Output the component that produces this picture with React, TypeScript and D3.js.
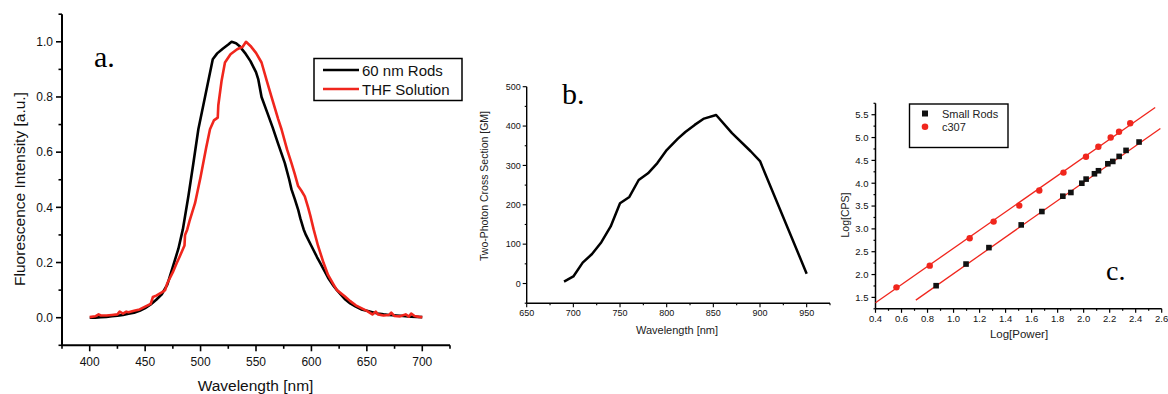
import React from 'react';
import * as d3 from 'd3';

// ---------- Panel a data ----------
const rodsWavelength = [400, 405, 410, 415, 420, 425, 430, 435, 440, 445, 450, 455, 460, 465, 470, 476, 480, 484, 489, 493.5, 498, 504, 511, 515, 520, 525, 528, 532, 535, 540, 545, 550, 552, 555, 560, 565, 570, 576, 580, 582, 585, 588, 590, 593, 595, 600, 605, 608, 615, 620, 623, 630, 635, 640, 645, 650, 655, 660, 665, 670, 680, 690, 700];
const rodsIntensity = [0.0, 0.0, 0.002, 0.003, 0.005, 0.007, 0.01, 0.014, 0.018, 0.025, 0.035, 0.048, 0.065, 0.085, 0.12, 0.198, 0.25, 0.32, 0.44, 0.56, 0.683, 0.8, 0.937, 0.958, 0.975, 0.99, 1.0, 0.995, 0.985, 0.96, 0.93, 0.89, 0.865, 0.8, 0.745, 0.69, 0.63, 0.56, 0.5, 0.465, 0.43, 0.392, 0.36, 0.32, 0.3, 0.26, 0.22, 0.198, 0.145, 0.115, 0.1, 0.068, 0.052, 0.04, 0.03, 0.025, 0.02, 0.015, 0.012, 0.01, 0.007, 0.004, 0.002];

const thfWavelength = [400, 405, 408, 410, 415, 420, 425, 427, 430, 433, 435, 440, 445, 450, 455, 457, 460, 465, 468, 470, 475, 478.5, 481, 485.5, 486, 488, 490, 495, 500, 505, 508.5, 512, 515.5, 516, 519, 522, 527, 533, 538, 541, 545, 550, 555, 560, 564, 570, 573, 578, 582, 585, 588, 591, 594, 597, 599, 602, 606, 611, 615, 620, 623, 630, 635, 640, 645, 650, 655, 658, 660, 665, 670, 672, 675, 680, 685, 688, 690, 693, 697, 700];
const thfIntensity = [0.002, 0.005, 0.012, 0.008, 0.008, 0.01, 0.012, 0.022, 0.015, 0.022, 0.02, 0.025, 0.03, 0.04, 0.05, 0.075, 0.08, 0.092, 0.1, 0.125, 0.165, 0.198, 0.22, 0.262, 0.3, 0.32, 0.35, 0.415, 0.51, 0.615, 0.683, 0.715, 0.725, 0.77, 0.86, 0.925, 0.955, 0.973, 0.982, 1.0, 0.985, 0.96, 0.925, 0.855, 0.8, 0.72, 0.683, 0.61, 0.56, 0.52, 0.477, 0.46, 0.44, 0.4, 0.37, 0.32, 0.26, 0.198, 0.155, 0.12, 0.1, 0.078, 0.06, 0.045, 0.035, 0.025, 0.012, 0.022, 0.012, 0.008, 0.01, 0.018, 0.006, 0.005, 0.012, 0.004, 0.015, 0.006, 0.003, 0.002];

const aXMajor = [400, 450, 500, 550, 600, 650, 700];
const aXMinor = [375, 425, 475, 525, 575, 625, 675, 725];
const aYMajor = [0.0, 0.2, 0.4, 0.6, 0.8, 1.0];
const aYMinor = [-0.1, 0.1, 0.3, 0.5, 0.7, 0.9, 1.1];
const aLegend = ['60 nm Rods', 'THF Solution'];

// ---------- Panel b data ----------
const tpWavelength = [690, 700, 710, 720, 730, 740, 750, 760, 770, 780, 790, 800, 812, 820, 830, 840, 853, 870, 890, 900, 950];
const tpCross = [5, 18, 53, 75, 105, 145, 204, 220, 263, 280, 306, 339, 368, 385, 403, 419, 428, 382, 336, 311, 25];
const bXMajor = [650, 700, 750, 800, 850, 900, 950];
const bXMinor = [675, 725, 775, 825, 875, 925, 975];
const bYMajor = [0, 100, 200, 300, 400, 500];
const bYMinor = [-50, 50, 150, 250, 350, 450];

// ---------- Panel c data ----------
const rodsLogPower = [0.866, 1.096, 1.272, 1.52, 1.679, 1.84, 1.902, 1.986, 2.019, 2.083, 2.114, 2.186, 2.224, 2.273, 2.326, 2.426];
const rodsLogCps = [1.756, 2.23, 2.59, 3.087, 3.38, 3.716, 3.797, 4.0, 4.09, 4.207, 4.273, 4.426, 4.477, 4.587, 4.719, 4.902];
const c307LogPower = [0.561, 0.817, 1.124, 1.308, 1.505, 1.659, 1.845, 2.018, 2.113, 2.208, 2.272, 2.358];
const c307LogCps = [1.72, 2.195, 2.795, 3.16, 3.51, 3.84, 4.232, 4.58, 4.8, 5.0, 5.128, 5.312];
const c307FitX = [0.4, 2.55];
const c307FitY = [1.383, 5.66];
const rodsFitX = [0.71, 2.59];
const rodsFitY = [1.44, 5.2];
const cXMajor = [0.4, 0.6, 0.8, 1.0, 1.2, 1.4, 1.6, 1.8, 2.0, 2.2, 2.4, 2.6];
const cXMinor = [0.5, 0.7, 0.9, 1.1, 1.3, 1.5, 1.7, 1.9, 2.1, 2.3, 2.5];
const cYMajor = [1.5, 2.0, 2.5, 3.0, 3.5, 4.0, 4.5, 5.0, 5.5];
const cYMinor = [1.25, 1.75, 2.25, 2.75, 3.25, 3.75, 4.25, 4.75, 5.25, 5.75];
const cLegend = ['Small Rods', 'c307'];

const RED = '#f0261d';
const SANS = '"Liberation Sans", Arial, sans-serif';
const SERIF = '"Liberation Serif", "Times New Roman", serif';

type Lin = d3.ScaleLinear<number, number>;

function XAxis({ x, y0, major, minor, fmt, majLen, minLen, sw, fs, labelDy }: { x: Lin; y0: number; major: number[]; minor: number[]; fmt: (v: number) => string; majLen: number; minLen: number; sw: number; fs: number; labelDy: number }) {
  const [r0, r1] = x.range();
  return (
    <g>
      <line x1={r0} x2={r1} y1={y0} y2={y0} stroke="#000" strokeWidth={sw} />
      {major.map((v) => (
        <g key={'M' + v}>
          <line x1={x(v)} x2={x(v)} y1={y0} y2={y0 + majLen} stroke="#000" strokeWidth={sw * 0.8} />
          <text x={x(v)} y={y0 + labelDy} fontSize={fs} fontFamily={SANS} textAnchor="middle" fill="#111">{fmt(v)}</text>
        </g>
      ))}
      {minor.map((v) => (
        <line key={'m' + v} x1={x(v)} x2={x(v)} y1={y0} y2={y0 + minLen} stroke="#000" strokeWidth={sw * 0.8} />
      ))}
    </g>
  );
}

function YAxis({ y, x0, major, minor, fmt, majLen, minLen, sw, fs, labelDx }: { y: Lin; x0: number; major: number[]; minor: number[]; fmt: (v: number) => string; majLen: number; minLen: number; sw: number; fs: number; labelDx: number }) {
  const [r0, r1] = y.range();
  return (
    <g>
      <line x1={x0} x2={x0} y1={r0} y2={r1} stroke="#000" strokeWidth={sw} />
      {major.map((v) => (
        <g key={'M' + v}>
          <line x1={x0} x2={x0 - majLen} y1={y(v)} y2={y(v)} stroke="#000" strokeWidth={sw * 0.8} />
          <text x={x0 - labelDx} y={y(v)} dy="0.35em" fontSize={fs} fontFamily={SANS} textAnchor="end" fill="#111">{fmt(v)}</text>
        </g>
      ))}
      {minor.map((v) => (
        <line key={'m' + v} x1={x0} x2={x0 - minLen} y1={y(v)} y2={y(v)} stroke="#000" strokeWidth={sw * 0.8} />
      ))}
    </g>
  );
}

export default function App() {
  // Panel a scales
  const ax = d3.scaleLinear().domain([375, 725]).range([62, 450]);
  const ay = d3.scaleLinear().domain([-0.1, 1.1]).range([345.3, 14.2]);
  const aLine = d3.line<[number, number]>().x((d) => ax(d[0])).y((d) => ay(d[1]));
  const rodsPts = rodsWavelength.map((w, i) => [w, rodsIntensity[i]] as [number, number]);
  const thfPts = thfWavelength.map((w, i) => [w, thfIntensity[i]] as [number, number]);

  // Panel b scales
  const bx = d3.scaleLinear().domain([650, 975]).range([526.7, 830]);
  const by = d3.scaleLinear().domain([-50, 500]).range([303.2, 86.7]);
  const bLine = d3.line<[number, number]>().x((d) => bx(d[0])).y((d) => by(d[1]));
  const tpPts = tpWavelength.map((w, i) => [w, tpCross[i]] as [number, number]);

  // Panel c scales
  const cx = d3.scaleLinear().domain([0.4, 2.6]).range([875.5, 1161.7]);
  const cy = d3.scaleLinear().domain([1.25, 5.75]).range([308.8, 103.3]);

  const f1 = d3.format('.1f');
  const f0 = d3.format('d');

  return (
    <svg width={1168} height={394} style={{ position: 'absolute', left: 0, top: 0, background: '#fff' }}>
      <rect width={1168} height={394} fill="#fff" />

      {/* ---------------- Panel a ---------------- */}
      <XAxis x={ax} y0={345.3} major={aXMajor} minor={aXMinor} fmt={f0} majLen={6} minLen={3.5} sw={2} fs={12} labelDy={21} />
      <YAxis y={ay} x0={62} major={aYMajor} minor={aYMinor} fmt={f1} majLen={6} minLen={3.5} sw={2} fs={12} labelDx={9} />
      <path d={aLine(rodsPts) || ''} fill="none" stroke="#000" strokeWidth={2.6} strokeLinejoin="round" />
      <path d={aLine(thfPts) || ''} fill="none" stroke={RED} strokeWidth={2.6} strokeLinejoin="round" />
      <text x={255.5} y={391} fontSize={15.5} fontFamily={SANS} textAnchor="middle" fill="#111">Wavelength [nm]</text>
      <text transform="translate(25,189) rotate(-90)" fontSize={15.5} fontFamily={SANS} textAnchor="middle" fill="#111">Fluorescence Intensity [a.u.]</text>
      <text x={94} y={66.5} fontSize={30} fontFamily={SERIF} fill="#000">a.</text>
      <rect x={314} y={58.5} width={148} height={42} fill="#fff" stroke="#000" strokeWidth={1.5} />
      {aLegend.map((name, i) => (
        <g key={name}>
          <line x1={323} x2={359} y1={70 + i * 19} y2={70 + i * 19} stroke={i === 0 ? '#000' : RED} strokeWidth={2.6} />
          <text x={362} y={75.5 + i * 19} fontSize={15} fontFamily={SANS} fill="#111">{name}</text>
        </g>
      ))}

      {/* ---------------- Panel b ---------------- */}
      <XAxis x={bx} y0={303.2} major={bXMajor} minor={bXMinor} fmt={f0} majLen={4} minLen={2} sw={1.4} fs={9} labelDy={13} />
      <YAxis y={by} x0={526.7} major={bYMajor} minor={bYMinor} fmt={f0} majLen={4} minLen={2} sw={1.4} fs={9} labelDx={6} />
      <path d={bLine(tpPts) || ''} fill="none" stroke="#000" strokeWidth={2.5} strokeLinejoin="round" />
      <text x={677} y={334} fontSize={11} fontFamily={SANS} textAnchor="middle" fill="#222">Wavelength [nm]</text>
      <text transform="translate(488,186) rotate(-90)" fontSize={10.5} fontFamily={SANS} textAnchor="middle" fill="#222">Two-Photon Cross Section [GM]</text>
      <text x={562} y={104} fontSize={30} fontFamily={SERIF} fill="#000">b.</text>

      {/* ---------------- Panel c ---------------- */}
      <XAxis x={cx} y0={308.8} major={cXMajor} minor={cXMinor} fmt={f1} majLen={4} minLen={2} sw={1.5} fs={9.5} labelDy={13} />
      <YAxis y={cy} x0={875.5} major={cYMajor} minor={cYMinor} fmt={f1} majLen={4} minLen={2} sw={1.5} fs={9.5} labelDx={7} />
      <line x1={cx(c307FitX[0])} y1={cy(c307FitY[0])} x2={cx(c307FitX[1])} y2={cy(c307FitY[1])} stroke={RED} strokeWidth={1.3} />
      <line x1={cx(rodsFitX[0])} y1={cy(rodsFitY[0])} x2={cx(rodsFitX[1])} y2={cy(rodsFitY[1])} stroke={RED} strokeWidth={1.3} />
      {rodsLogPower.map((p, i) => (
        <rect key={'s' + i} x={cx(p) - 2.8} y={cy(rodsLogCps[i]) - 2.8} width={5.6} height={5.6} fill="#111" />
      ))}
      {c307LogPower.map((p, i) => (
        <circle key={'c' + i} cx={cx(p)} cy={cy(c307LogCps[i])} r={3.2} fill={RED} />
      ))}
      <text x={1019} y={338} fontSize={11.5} fontFamily={SANS} textAnchor="middle" fill="#222">Log[Power]</text>
      <text transform="translate(849,215) rotate(-90)" fontSize={10.5} fontFamily={SANS} textAnchor="middle" fill="#222">Log[CPS]</text>
      <text x={1106} y={280} fontSize={28} fontFamily={SERIF} fill="#000">c.</text>
      <rect x={909.5} y={104} width={98.5} height={43.5} fill="#fff" stroke="#000" strokeWidth={1.4} />
      {cLegend.map((name, i) => (
        <g key={name}>
          {i === 0 ? (
            <rect x={925 - 3} y={113.5 - 3} width={6} height={6} fill="#111" />
          ) : (
            <circle cx={925} cy={126.8} r={3.3} fill={RED} />
          )}
          <text x={942} y={117.5 + i * 13} fontSize={11} fontFamily={SANS} fill="#222">{name}</text>
        </g>
      ))}
    </svg>
  );
}
